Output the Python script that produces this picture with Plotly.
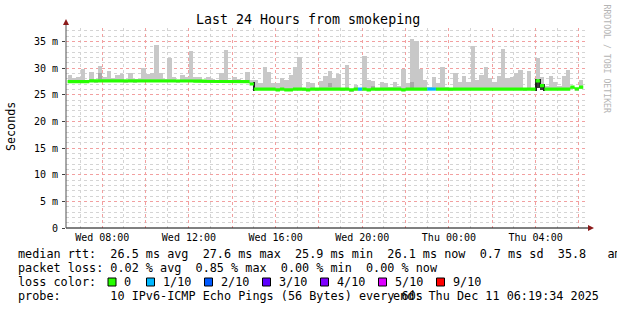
import plotly.graph_objects as go

# ---------------- data ----------------
# time in hours since Wed 00:00; window Wed 06:19:34 -> Thu 06:19:34
window_start_h = 6.326
window_end_h = 30.326
step_h = 0.2          # 12-minute consolidation step
first_bar_h = 6.4     # Wed 06:24

# highest ping per step (ms)
rtt_max = [28.65, 28.1, 28.3, 29.75, 27.8, 29.2, 27.6, 30.3, 28.25, 29.5,
           28.2, 28.6, 28.85, 27.6, 29.0, 27.9, 28.0, 30.0, 28.9, 29.1,
           34.25, 29.0, 28.0, 31.9, 28.3, 27.6, 28.6, 28.3, 33.1, 28.25,
           28.4, 27.55, 28.4, 27.9, 27.45, 29.1, 33.4, 27.5, 28.25, 27.9,
           27.45, 29.2, 27.75, 27.75, 27.1, 30.1, 29.2, 27.1, 27.1, 28.1,
           27.75, 28.75, 30.1, 32.0, 26.05, 27.3, 27.1, 26.05, 27.5, 28.55,
           29.5, 28.2, 28.8, 26.05, 30.6, 25.9, 26.9, 26.05, 32.3, 27.7,
           27.5, 26.05, 27.4, 27.1, 26.5, 27.4, 26.7, 29.9, 27.2, 35.4,
           35.0, 29.9, 27.7, 26.5, 28.4, 27.2, 30.25, 26.5, 26.05, 29.0,
           27.3, 28.55, 27.4, 34.2, 27.7, 28.7, 30.1, 28.1, 27.3, 28.55,
           33.6, 28.1, 28.3, 29.0, 29.6, 26.05, 29.5, 26.05, 31.8, 28.4,
           26.6, 28.55, 27.4, 26.7, 28.55, 29.7, 26.5, 26.1, 27.7]

# median rtt per step (ms)
rtt_median = [27.45, 27.45, 27.45, 27.45, 27.45, 27.6, 27.6, 27.6, 27.6, 27.6,
              27.6, 27.6, 27.6, 27.6, 27.6, 27.5, 27.6, 27.6, 27.6, 27.6,
              27.6, 27.6, 27.6, 27.6, 27.6, 27.6, 27.6, 27.6, 27.6, 27.55,
              27.55, 27.55, 27.45, 27.45, 27.45, 27.5, 27.5, 27.5, 27.5, 27.45,
              27.45, 27.45, 27.0, 26.05, 26.05, 26.05, 26.05, 26.05, 25.9, 26.05,
              25.9, 25.9, 26.05, 26.05, 26.05, 25.9, 26.05, 26.05, 26.05, 26.05,
              26.05, 26.05, 26.05, 26.05, 26.05, 25.9, 26.05, 26.05, 26.05, 25.9,
              26.05, 26.05, 26.05, 26.05, 26.05, 26.05, 26.05, 25.9, 26.05, 26.05,
              26.05, 26.05, 26.05, 26.05, 26.05, 26.05, 26.05, 26.05, 26.05, 26.05,
              26.05, 26.05, 26.05, 26.05, 26.05, 26.05, 26.05, 26.05, 26.05, 26.05,
              26.05, 26.05, 26.05, 26.05, 26.05, 26.05, 26.05, 26.05, 27.6, 26.7,
              26.05, 26.05, 26.05, 26.05, 26.05, 26.05, 26.4, 26.1, 26.4]

# packet loss per step in tenths (0 = none)
loss_tenths = [
    0, 0, 0, 0, 0, 0, 0, 0, 0, 0, 0, 0, 0, 0, 0, 0, 0, 0, 0, 0,
    0, 0, 0, 0, 0, 0, 0, 0, 0, 0, 0, 0, 0, 0, 0, 0, 0, 0, 0, 0,
    0, 0, 0, 0, 0, 0, 0, 0, 0, 0, 0, 0, 0, 0, 0, 0, 0, 0, 0, 0,
    0, 0, 0, 0, 0, 0, 0, 1, 0, 0, 0, 0, 0, 0, 0, 0, 0, 0, 0, 0,
    0, 0, 0, 1, 1, 0, 0, 0, 0, 0, 0, 0, 0, 0, 0, 0, 0, 0, 0, 0,
    0, 0, 0, 0, 0, 0, 0, 0, 0, 0, 0, 0, 0, 0, 0, 0, 0, 0, 0]

# denser smoke (inner pings) for some steps
dense_idx = [7, 60, 70, 79, 108, 109]
dense_lo = [27.85, 26.35, 26.2, 26.2, 26.3, 25.95]
dense_hi = [29.1, 27.1, 26.7, 27.4, 27.6, 26.7]
dense_shade = ["#a9a9a9", "#a9a9a9", "#a9a9a9", "#a9a9a9", "#3a3a3a", "#3a3a3a"]

x_tickvals = [8, 10, 12, 14, 16, 18, 20, 22, 24, 26, 28, 30]
x_ticktext = ["Wed 08:00", "", "Wed 12:00", "", "Wed 16:00", "", "Wed 20:00", "",
              "Thu 00:00", "", "Thu 04:00", ""]
x_minor = [7, 9, 11, 13, 15, 17, 19, 21, 23, 25, 27, 29]
y_tickvals = [0, 5, 10, 15, 20, 25, 30, 35]
y_ticktext = ["0", "5 m", "10 m", "15 m", "20 m", "25 m", "30 m", "35 m"]

loss_levels = ["0", "1/10", "2/10", "3/10", "4/10", "5/10", "9/10"]
loss_colors = ["#26ff00", "#00b8ff", "#0059ff", "#5e00ff", "#7e00ff", "#dd00ff", "#ff0000"]
tenth_to_color = {0: "#26ff00", 1: "#00b8ff", 2: "#0059ff", 3: "#5e00ff",
                  4: "#7e00ff", 5: "#dd00ff", 9: "#ff0000"}

legend_lines = [
    "median rtt:  26.5 ms avg  27.6 ms max  25.9 ms min  26.1 ms now  0.7 ms sd  35.8   am/s",
    "packet loss: 0.02 % avg  0.85 % max  0.00 % min  0.00 % now",
    "loss color:",
    "probe:       10 IPv6-ICMP Echo Pings (56 Bytes) every 60s",
]
end_text = "end: Thu Dec 11 06:19:34 2025"

# ---------------- geometry ----------------
W, H = 617, 310
ML, MR, MT, MB = 66, 31, 28, 82
PW, PH = W - ML - MR, H - MT - MB
FONT = "DejaVu Sans Mono"


def px(x):
    return (x - ML) / PW


def py(y):
    return (H - MB - y) / PH


n = len(rtt_max)
centers = [first_bar_h + step_h * (i + 0.5) for i in range(n)]
smoke_base = [m - 0.25 for m in rtt_median]
smoke_h = [mx - b for mx, b in zip(rtt_max, smoke_base)]

fig = go.Figure()

fig.add_trace(go.Bar(x=centers, y=smoke_h, base=smoke_base, width=step_h * 1.04,
                     marker=dict(color="#c8c8c8", line=dict(width=0)),
                     hoverinfo="skip", showlegend=False))

fig.add_trace(go.Bar(x=[centers[i] for i in dense_idx],
                     y=[h - l for h, l in zip(dense_hi, dense_lo)],
                     base=dense_lo, width=step_h,
                     marker=dict(color=dense_shade, line=dict(width=0)),
                     hoverinfo="skip", showlegend=False))

# thin dark connector where the median steps strongly from one value to the next
band = 0.3
tr_x, tr_base, tr_h = [], [], []
for i in range(n - 1):
    a, b = rtt_median[i], rtt_median[i + 1]
    if abs(a - b) > 0.5:
        lo, hi = min(a, b), max(a, b)
        tr_x.append(first_bar_h + step_h * (i + 1))
        tr_base.append(lo - band)
        tr_h.append(hi - lo + 2 * band)
fig.add_trace(go.Bar(x=tr_x, y=tr_h, base=tr_base, width=0.05,
                     marker=dict(color="#202020", line=dict(width=0)),
                     hoverinfo="skip", showlegend=False))

# loss-coloured median band: one filled polygon per run of equal colour
runs = []
start = 0
for i in range(1, n + 1):
    if i == n or loss_tenths[i] != loss_tenths[start]:
        runs.append((start, i))
        start = i
for s, e in runs:
    top_x, top_y = [], []
    for i in range(s, e):
        x0 = first_bar_h + step_h * i
        top_x += [x0, x0 + step_h]
        top_y += [rtt_median[i] + band, rtt_median[i] + band]
    bot_x = top_x[::-1]
    bot_y = []
    for i in reversed(range(s, e)):
        bot_y += [rtt_median[i] - band, rtt_median[i] - band]
    fig.add_trace(go.Scatter(x=top_x + bot_x, y=top_y + bot_y, mode="lines",
                             fill="toself", fillcolor=tenth_to_color[loss_tenths[s]],
                             line=dict(width=0), hoverinfo="skip", showlegend=False))

major_grid = "#f2a0a0"
minor_grid = "#d4d4d4"

fig.update_layout(
    width=W, height=H, autosize=False,
    margin=dict(l=ML, r=MR, t=MT, b=MB, pad=0),
    paper_bgcolor="white", plot_bgcolor="white",
    barmode="overlay", bargap=0,
    showlegend=False,
    font=dict(family=FONT, size=10, color="#000000"),
    xaxis=dict(range=[window_start_h, window_end_h], tickmode="array",
               tickvals=x_tickvals, ticktext=x_ticktext,
               showgrid=True, gridcolor=major_grid, griddash="dot", gridwidth=1,
               zeroline=False, showline=False, ticks="", ticklabelstandoff=2,
               tickfont=dict(family=FONT, size=10),
               minor=dict(tickmode="array", tickvals=x_minor, showgrid=True,
                          gridcolor=minor_grid, griddash="dot", gridwidth=1)),
    yaxis=dict(range=[0, 37.5], tickmode="array", tickvals=y_tickvals, ticktext=y_ticktext,
               showgrid=True, gridcolor=major_grid, griddash="dot", gridwidth=1,
               zeroline=False, showline=False, ticks="outside", ticklen=3,
               tickcolor="#404040", ticklabelstandoff=2,
               tickfont=dict(family=FONT, size=10),
               minor=dict(dtick=1, tick0=0, showgrid=True, gridcolor=minor_grid,
                          griddash="dot", gridwidth=1)),
)

shapes = []
# axes
shapes.append(dict(type="line", xref="paper", yref="paper", x0=px(66), x1=px(589),
                   y0=0, y1=0, line=dict(color="#000000", width=1), layer="above"))
shapes.append(dict(type="line", xref="paper", yref="paper", x0=0, x1=0,
                   y0=0, y1=py(24), line=dict(color="#505050", width=1), layer="above"))
# arrows
shapes.append(dict(type="path", xref="paper", yref="paper",
                   path=f"M {px(588)} {py(225)} L {px(594)} {py(228)} L {px(588)} {py(231)} Z",
                   fillcolor="#8b1a1a", line=dict(width=0), layer="above"))
shapes.append(dict(type="path", xref="paper", yref="paper",
                   path=f"M {px(63)} {py(25)} L {px(66)} {py(19)} L {px(69)} {py(25)} Z",
                   fillcolor="#8b1a1a", line=dict(width=0), layer="above"))

annotations = []
annotations.append(dict(text="Last 24 Hours from smokeping", xref="paper", yref="paper",
                        x=px(308), y=py(20), xanchor="center", yanchor="middle",
                        showarrow=False, font=dict(family=FONT, size=13.3, color="#000")))
annotations.append(dict(text="Seconds", xref="paper", yref="paper", textangle=-90,
                        x=px(11), y=py(127), xanchor="center", yanchor="middle",
                        showarrow=False, font=dict(family=FONT, size=11.7, color="#000")))
annotations.append(dict(text="RRDTOOL / TOBI OETIKER", xref="paper", yref="paper", textangle=90,
                        x=px(606.5), y=py(59), xanchor="center", yanchor="middle",
                        showarrow=False, font=dict(family=FONT, size=8.2, color="#b4b4b4")))

line_y = [254, 268, 282, 296]
for txt, yy in zip(legend_lines, line_y):
    annotations.append(dict(text=txt.replace(" ", "&nbsp;"), xref="paper", yref="paper",
                            x=px(16), y=py(yy), xanchor="left", yanchor="middle",
                            showarrow=False, font=dict(family=FONT, size=11.8, color="#000")))
annotations.append(dict(text=end_text, xref="paper", yref="paper",
                        x=px(601), y=py(296), xanchor="right", yanchor="middle",
                        showarrow=False, font=dict(family=FONT, size=11.8, color="#000")))

box_x = [108, 146.5, 204.5, 262.5, 320.5, 378.5, 436.5]
for bx, lvl, col in zip(box_x, loss_levels, loss_colors):
    shapes.append(dict(type="rect", xref="paper", yref="paper",
                       x0=px(bx), x1=px(bx + 8), y0=py(278), y1=py(286),
                       fillcolor=col, line=dict(color="#000000", width=1), layer="above"))
    annotations.append(dict(text=lvl, xref="paper", yref="paper",
                            x=px(bx + 14), y=py(282), xanchor="left", yanchor="middle",
                            showarrow=False, font=dict(family=FONT, size=11.8, color="#000")))

fig.update_layout(shapes=shapes, annotations=annotations)
fig.write_html("out.html")
